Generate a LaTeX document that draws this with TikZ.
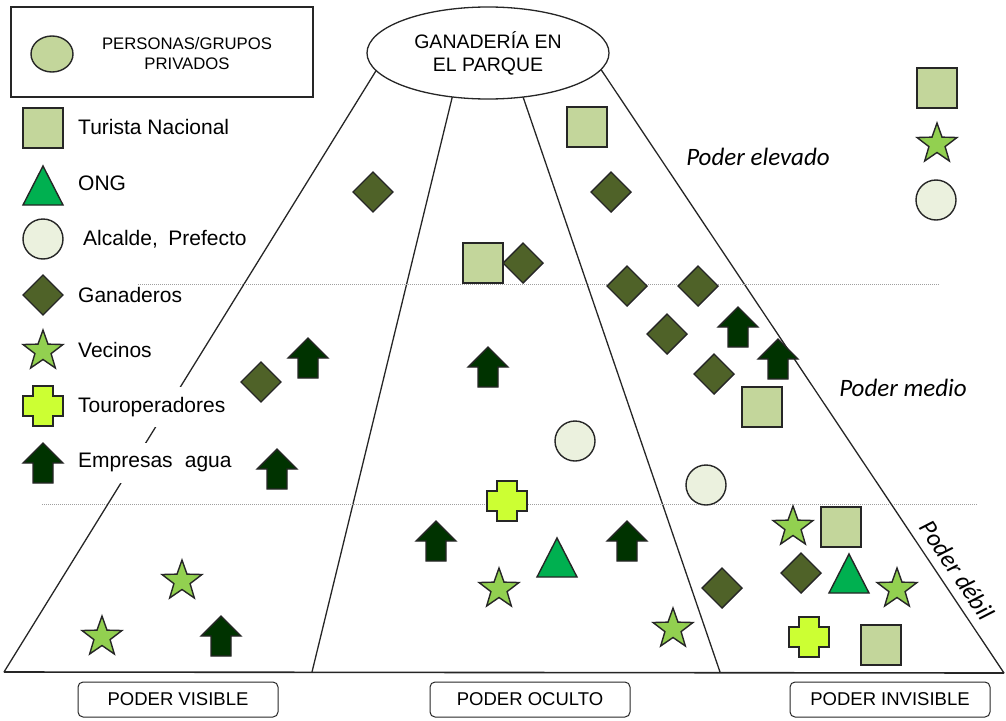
\documentclass[tikz,border=0pt]{standalone}
\usepackage{fontspec}
\setmainfont{Liberation Sans}
\newfontfamily\calibri{Carlito}
\usetikzlibrary{shapes.geometric}

\definecolor{sqfill}{HTML}{C3D69B}
\definecolor{trifill}{HTML}{00B050}
\definecolor{circfill}{HTML}{EBF1DE}
\definecolor{diamfill}{HTML}{4F6228}
\definecolor{starfill}{HTML}{92D050}
\definecolor{plusfill}{HTML}{CCFF33}
\definecolor{arrowfill}{HTML}{003300}
\definecolor{edge}{HTML}{262626}

\tikzset{
  shp/.style={draw=edge, line width=1.4pt, line join=miter},
  pics/sq/.style={code={\draw[shp, fill=sqfill] (-20,-20) rectangle (20,20);}},
  pics/tri/.style={code={\draw[shp, fill=trifill] (0,-20) -- (20,19) -- (-20,19) -- cycle;}},
  pics/circ/.style={code={\draw[shp, fill=circfill] (0,0) circle[radius=20];}},
  pics/diam/.style={code={\draw[shp, fill=diamfill] (0,-20) -- (20,0) -- (0,20) -- (-20,0) -- cycle;}},
  pics/vstar/.style={code={\draw[shp, fill=starfill]
      (-90:21) -- (-54:8.5) -- (-18:21) -- (18:8.5) -- (54:21) -- (90:8.5)
      -- (126:21) -- (162:8.5) -- (198:21) -- (234:8.5) -- cycle;}},
  pics/plus/.style={code={\draw[shp, fill=plusfill]
      (-10,-20) -- (10,-20) -- (10,-10) -- (20,-10) -- (20,10) -- (10,10)
      -- (10,20) -- (-10,20) -- (-10,10) -- (-20,10) -- (-20,-10) -- (-10,-10) -- cycle;}},
  pics/uparrow/.style={code={\draw[shp, fill=arrowfill]
      (0,-20) -- (20,0) -- (10,0) -- (10,20) -- (-10,20) -- (-10,0) -- (-20,0) -- cycle;}},
  edgeline/.style={draw=edge, line width=1.3pt},
  levelline/.style={draw=gray!75, line width=0.9pt, dash pattern=on 1pt off 1pt},
  legendlabel/.style={anchor=west, fill=white, inner xsep=2pt, inner ysep=0pt,
      minimum height=40, font=\fontsize{21}{25}\selectfont},
  powerbox/.style={draw=edge, line width=1pt, rounded corners=5pt, minimum width=200,
      minimum height=35, font=\fontsize{18.5}{22}\selectfont},
  levellabel/.style={font=\calibri\itshape\fontsize{25}{30}\selectfont},
}

\begin{document}
\begin{tikzpicture}[x=1pt, y=-1pt]
\useasboundingbox (0,0) rectangle (1006,720);

% edges of the pyramid
\coordinate (t1) at (387,53);
\coordinate (b1) at (4,672);
\coordinate (t2) at (463,53);
\coordinate (b2) at (312,672);
\coordinate (t3) at (508,53);
\coordinate (b3) at (720,672);
\coordinate (t4) at (590,53);
\coordinate (b4) at (1004,673);
\draw[edgeline] (t1) -- (b1);
\draw[edgeline] (t2) -- (b2);
\draw[edgeline] (t3) -- (b3);
\draw[edgeline] (t4) -- (b4);
\draw[edgeline, line width=1.6pt] (b1) -- (b4);

% central topic
\node[ellipse, draw=edge, line width=1.3pt, fill=white, minimum width=242, minimum height=92,
      align=center, font=\fontsize{19.5}{23}\selectfont, inner sep=0pt] (park) at (488,53)
      {GANADERÍA EN\\EL PARQUE};

% legend
\node[draw=edge, line width=1.2pt, minimum width=302, minimum height=90, inner sep=0pt] (legendbox) at (162,52) {};
\draw[shp, fill=sqfill] (52,54) ellipse[x radius=21, y radius=18];
\node[align=center, font=\fontsize{16.7}{20}\selectfont] (legendtitle) at (187,54) {PERSONAS/GRUPOS\\PRIVADOS};

\pic (lg1) at (43,128) {sq};
\pic (lg2) at (43,186) {tri};
\pic (lg3) at (43,239) {circ};
\pic (lg4) at (43,295) {diam};
\pic (lg5) at (43,351) {vstar};
\pic (lg6) at (43,406) {plus};
\pic (lg7) at (43,463) {uparrow};
\node[legendlabel] (lt1) at (76,127) {Turista Nacional};
\node[legendlabel] (lt2) at (76,183) {ONG};
\node[legendlabel] (lt3) at (81,239) {Alcalde,\hspace{0.5em}Prefecto};
\node[legendlabel] (lt4) at (76,295) {Ganaderos};
\node[legendlabel] (lt5) at (76,350) {Vecinos};
\node[legendlabel] (lt6) at (76,407) {Touroperadores};
\node[legendlabel] (lt7) at (76,462.5) {Empresas\hspace{0.3em} agua};

% power levels
\draw[levelline] (138,284) -- (940,284);
\draw[levelline] (42,504) -- (978,504);
\node[levellabel] (lvhigh) at (758,157) {Poder elevado};
\node[levellabel] (lvmid) at (903,388) {Poder medio};
\node[levellabel, rotate=-56] (lvlow) at (957,570) {Poder débil};

% key in the upper right corner
\pic (k1) at (937,88) {sq};
\pic (k2) at (937,144) {vstar};
\pic (k3) at (936,200) {circ};

% actors: high power
\pic (a1) at (373,192) {diam};
\pic (a2) at (587,127) {sq};
\pic (a3) at (611,192) {diam};
\pic (a4) at (483,263) {sq};
\pic (a5) at (523,263) {diam};

% actors: medium power
\pic (a6) at (627,286) {diam};
\pic (a7) at (698,286) {diam};
\pic (a8) at (667,334) {diam};
\pic (a9) at (738,327) {uparrow};
\pic (a10) at (778,359) {uparrow};
\pic (a11) at (714,374) {diam};
\pic (a12) at (762,407) {sq};
\pic (a13) at (261,382) {diam};
\pic (a14) at (308,358) {uparrow};
\pic (a15) at (277,469) {uparrow};
\pic (a16) at (488,367) {uparrow};
\pic (a17) at (575,441) {circ};
\pic (a18) at (706,485) {circ};

% actors: weak power
\pic (a19) at (507,501) {plus};
\pic (a20) at (436,541) {uparrow};
\pic (a21) at (627,541) {uparrow};
\pic (a22) at (557,558) {tri};
\pic (a23) at (499,589) {vstar};
\pic (a24) at (182,581) {vstar};
\pic (a25) at (102,637) {vstar};
\pic (a26) at (221,636) {uparrow};
\pic (a27) at (793,527) {vstar};
\pic (a28) at (841,527) {sq};
\pic (a29) at (801,573) {diam};
\pic (a30) at (849,574) {tri};
\pic (a31) at (897,589) {vstar};
\pic (a32) at (722,588) {diam};
\pic (a33) at (673,629) {vstar};
\pic (a34) at (809,637) {plus};
\pic (a35) at (881,645) {sq};

% kinds of power
\node[powerbox] (visible) at (178,699.5) {PODER VISIBLE};
\node[powerbox] (oculto) at (530,699.5) {PODER OCULTO};
\node[powerbox] (invisible) at (890,699.5) {PODER INVISIBLE};
\end{tikzpicture}
\end{document}
